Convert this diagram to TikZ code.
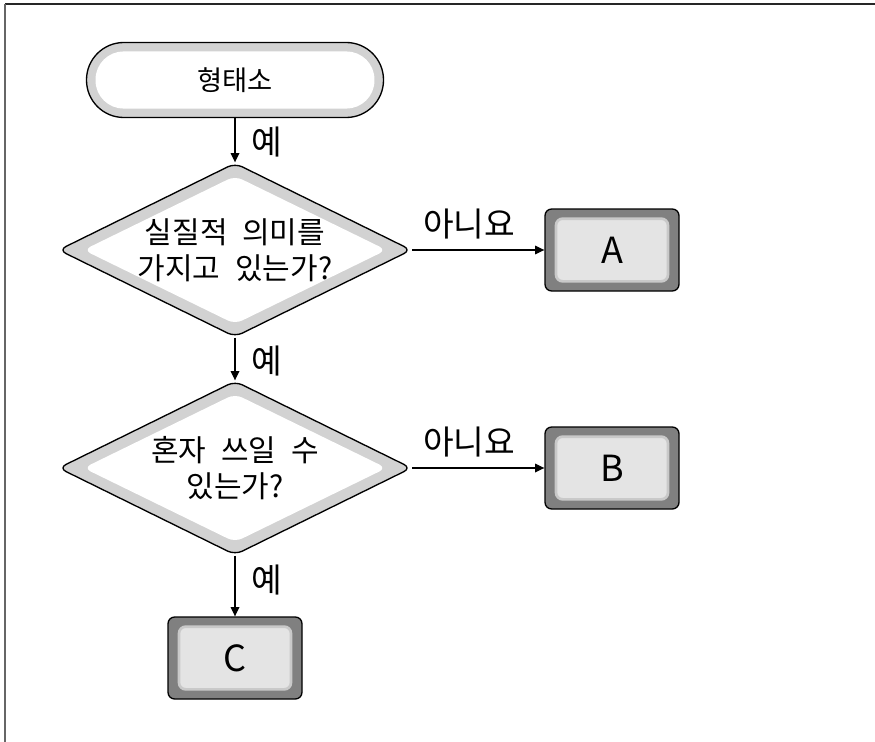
\documentclass[tikz,border=0pt]{standalone}
\usepackage{fontspec}
\setmainfont{Noto Sans CJK KR}[WordSpace=2.2]
\usepackage{tikz}
\usetikzlibrary{shapes,arrows.meta}
\definecolor{band}{HTML}{D2D2D2}
\definecolor{boxdark}{HTML}{808080}
\definecolor{boxlight}{HTML}{E4E4E4}
\definecolor{boxedge}{HTML}{C9C9C9}

\begin{document}
\begin{tikzpicture}[x=0.75pt,y=-0.75pt,
>={Triangle[length=7pt,width=6.5pt]}]
\tikzstyle{terminal}=[rectangle,draw=black,line width=1pt,fill=band,
  rounded corners=28pt,minimum width=222.75pt,minimum height=56.25pt,
  font=\fontsize{20.5}{24}\selectfont,
  path picture={\fill[white,rounded corners=21pt]
    ([shift={(-104.6pt,-21.4pt)}]path picture bounding box.center) rectangle
    ([shift={(104.6pt,21.4pt)}]path picture bounding box.center);}]
\tikzstyle{decision}=[diamond,aspect=2,draw=black,line width=1pt,fill=band,
  rounded corners=6pt,minimum width=264.75pt,minimum height=130.5pt,
  inner sep=0pt,align=center,font=\fontsize{22.5}{27}\selectfont,
  path picture={\fill[white,rounded corners=6pt]
    ([shift={(0pt,55.5pt)}]path picture bounding box.center) --
    ([shift={(113.6pt,0pt)}]path picture bounding box.center) --
    ([shift={(0pt,-55.5pt)}]path picture bounding box.center) --
    ([shift={(-113.6pt,0pt)}]path picture bounding box.center) -- cycle;}]
\tikzstyle{result}=[rectangle,draw=black,line width=1pt,fill=boxdark,
  rounded corners=5pt,minimum width=100.5pt,minimum height=61.5pt,
  font=\fontsize{27}{30}\selectfont,
  path picture={\filldraw[fill=boxlight,draw=boxedge,line width=2pt,rounded corners=5pt]
    ([shift={(-42pt,-23.5pt)}]path picture bounding box.center) rectangle
    ([shift={(42pt,23.5pt)}]path picture bounding box.center);}]
\tikzstyle{answer}=[inner sep=0pt,font=\fontsize{25}{28}\selectfont]
\tikzstyle{flow}=[->,line width=0.9pt]

\useasboundingbox (0,0) rectangle (875,742);
\draw[line width=1.5pt,black!85] (875,4) -- (5,4);
\draw[line width=1.5pt,black!60] (5,4) -- (5,742);

\node[terminal] (morph) at (235,80) {형태소};
\node[decision] (lexical) at (235,250) {실질적 의미를\\가지고 있는가?};
\node[decision] (free) at (235,468) {혼자 쓰일 수\\있는가?};
\node[result] (resA) at (612,250) {A};
\node[result] (resB) at (612,468) {B};
\node[result] (resC) at (235,658) {C};

\draw[flow] (morph) -- node[answer,right=12pt,pos=0.55] (yes1) {예} (lexical);
\draw[flow] (lexical) -- node[answer,right=12pt,pos=0.55] (yes2) {예} (free);
\draw[flow] (free) -- node[answer,right=12pt,pos=0.4] (yes3) {예} (resC);
\draw[flow] (lexical) -- node[answer,above=8pt,pos=0.43] (no1) {아니요} (resA);
\draw[flow] (free) -- node[answer,above=8pt,pos=0.43] (no2) {아니요} (resB);

\end{tikzpicture}
\end{document}
